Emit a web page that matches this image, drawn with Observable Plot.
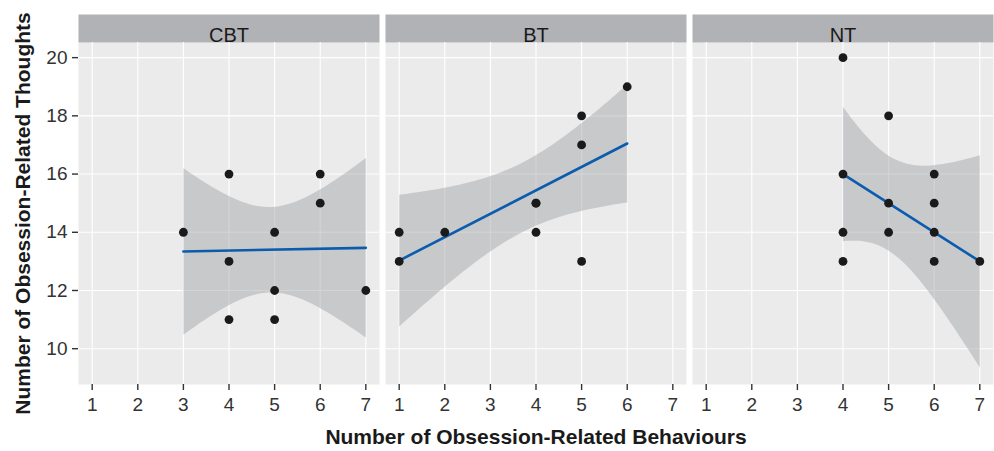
<!DOCTYPE html>
<html>
<head>
<meta charset="utf-8">
<script src="https://cdn.jsdelivr.net/npm/d3@7"></script>
<script src="https://cdn.jsdelivr.net/npm/@observablehq/plot@0.6"></script>
<style>
  html, body { margin: 0; padding: 0; background: #ffffff; }
  #chart { width: 994px; height: 451px; }
</style>
</head>
<body>
<div id="chart"></div>
<script>
// ---- data ----
const groups = ["CBT", "BT", "NT"];

const cbtBehaviours = [5, 5, 4, 4, 5, 3, 7, 6, 6, 4];
const cbtThoughts   = [14, 11, 16, 13, 12, 14, 12, 15, 16, 11];

const btBehaviours  = [4, 4, 1, 1, 4, 6, 5, 5, 2, 5];
const btThoughts    = [14, 15, 13, 14, 15, 19, 13, 18, 14, 17];

const ntBehaviours  = [4, 5, 5, 4, 6, 4, 7, 4, 6, 5];
const ntThoughts    = [13, 15, 14, 14, 13, 20, 13, 16, 14, 18];

// two further NT points visible in the picture (not part of the fitted line)
const ntExtraBehaviours = [6, 6];
const ntExtraThoughts   = [16, 15];

const xTicks = [1, 2, 3, 4, 5, 6, 7];
const yTicks = [10, 12, 14, 16, 18, 20];

const xTitle = "Number of Obsession-Related Behaviours";
const yTitle = "Number of Obsession-Related Thoughts";

// ---- build tables ----
const series = {
  CBT: [cbtBehaviours, cbtThoughts],
  BT:  [btBehaviours, btThoughts],
  NT:  [ntBehaviours, ntThoughts]
};
const fitRows = groups.flatMap(g => series[g][0].map((b, i) => ({group: g, b, t: series[g][1][i]})));
const extraRows = ntExtraBehaviours.map((b, i) => ({group: "NT", b, t: ntExtraThoughts[i]}));
const shownRows = fitRows.concat(extraRows);

// ---- layout ----
const W = 994, H = 451;
const mT = 42, mB = 67, mL = 77, mR = 0;
const plotH = H - mT - mB;
const font = "'Liberation Sans', Arial, Helvetica, sans-serif";

const chart = Plot.plot({
  width: W,
  height: H,
  marginTop: mT,
  marginBottom: mB,
  marginLeft: mL,
  marginRight: mR,
  style: {fontFamily: font, fontSize: "19px", color: "#333333", background: "#ffffff", overflow: "visible"},
  fx: {domain: groups, axis: null, paddingInner: 0.0195, paddingOuter: 0},
  x: {domain: [0.7, 7.3]},
  y: {domain: [8.77, 20.52]},
  marks: [
    Plot.frame({fill: "#ebebeb"}),
    Plot.frame({fill: "#b1b2b6", insetTop: -28, insetBottom: plotH}),
    Plot.gridX(xTicks, {stroke: "#ffffff", strokeOpacity: 1, strokeWidth: 1.1}),
    Plot.gridY(yTicks, {stroke: "#ffffff", strokeOpacity: 1, strokeWidth: 1.1}),
    Plot.linearRegressionY(fitRows, {
      fx: "group", x: "b", y: "t",
      ci: 0.95,
      fill: "#a2a4a8", fillOpacity: 0.47,
      stroke: "#0b5cad", strokeWidth: 2.6
    }),
    Plot.dot(shownRows, {fx: "group", x: "b", y: "t", r: 4.4, fill: "#1a1a1a", stroke: "none"}),
    Plot.text(groups, {fx: d => d, text: d => d, frameAnchor: "top", dy: -14.5, fontSize: 20, fill: "#1a1a1a"}),
    Plot.axisX(xTicks, {tickSize: 6, tickPadding: 7, label: null, fontSize: 19, stroke: "#333333", strokeWidth: 1.4, fill: "#333333"}),
    Plot.axisY(yTicks, {tickSize: 6, tickPadding: 5, label: null, fontSize: 19, stroke: "#333333", strokeWidth: 1.4, fill: "#333333"}),
    Plot.text([xTitle], {fx: () => "BT", text: d => d, frameAnchor: "bottom", dy: 59, fontWeight: "bold", fontSize: 21, fill: "#1a1a1a"}),
    Plot.text([yTitle], {fx: () => "CBT", text: d => d, frameAnchor: "left", textAnchor: "middle", dx: -55, rotate: -90, fontWeight: "bold", fontSize: 21, fill: "#1a1a1a"})
  ]
});

document.getElementById("chart").appendChild(chart);
</script>
</body>
</html>
